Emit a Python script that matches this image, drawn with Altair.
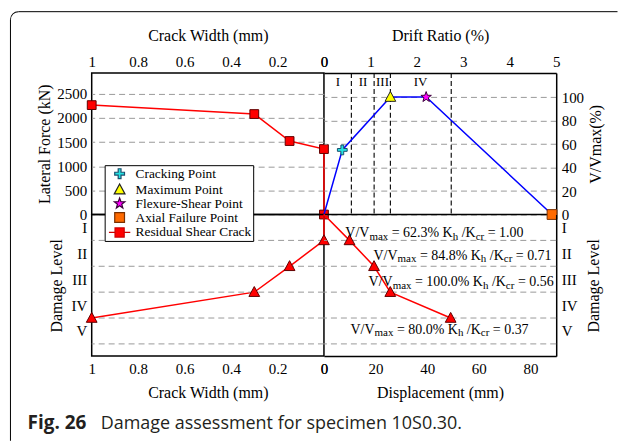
import math
import altair as alt
import pandas as pd

# ---------------- data ----------------
crack_width_top = [1.0, 0.30, 0.148, 0.0, 0.0]
lateral_force = [2264, 2079, 1521, 1355, 0]

drift = [0.0, 0.395, 1.43, 2.20, 4.91]
v_ratio = [0.0, 55.0, 100.0, 100.0, 0.0]

key_names = ["Cracking Point", "Maximum Point", "Flexure-Shear Point", "Axial Failure Point"]
key_drift = [0.395, 1.43, 2.20, 4.91]
key_vratio = [55.0, 100.0, 100.0, 0.0]
legend_names = key_names + ["Residual Shear Crack"]

limit_drift = [0.59, 1.08, 1.43, 2.74]
limit_labels = ["I", "II", "III", "IV"]
limit_label_drift = [0.30, 0.84, 1.26, 2.08]
limit_label_vratio = [112.5, 112.5, 112.5, 112.5]

crack_width_bottom = [1.0, 0.30, 0.148, 0.0, 0.0]
damage_by_crack = [4, 3, 2, 1, 0]
displacement = [0.0, 9.9, 19.4, 25.7, 49.1]
damage_by_disp = [0, 1, 2, 3, 4]

ann_vratio = ["62.3%", "84.8%", "100.0%", "80.0%"]
ann_kratio = ["1.00", "0.71", "0.56", "0.37"]
ann_disp = [8.3, 19.2, 17.3, 10.3]
ann_level = [0.87, 1.75, 2.78, 4.61]

level_names = ["I", "II", "III", "IV", "V"]
level_label_pos = [0.5, 1.5, 2.5, 3.5, 4.5]
level_grid = [1, 2, 3, 4, 5]

crack_ticks = [1, 0.8, 0.6, 0.4, 0.2, 0]
force_ticks = [0, 500, 1000, 1500, 2000, 2500]
drift_ticks = [0, 1, 2, 3, 4, 5]
vratio_ticks = [0, 20, 40, 60, 80, 100]
disp_ticks = [0, 20, 40, 60, 80]

# ---------------- styling ----------------
W, H = 233, 142
SERIF = "Liberation Serif"
SANS = "Open Sans"
RED = "#ff0000"
GRID = "#9a9a9a"


def sc(lo, hi, reverse=False):
    return alt.Scale(domain=[lo, hi], nice=False, zero=False, reverse=reverse)


S_CW = sc(0, 1, True)
S_FORCE = sc(0, 2929)
S_DRIFT = sc(0, 5)
S_VR = sc(0, 120.5)
S_DMG = sc(0, 5.47, True)
S_DISP = sc(0, 90)

ROMAN_EXPR = "[" + ",".join(repr(n) for n in level_names) + "][round(datum.value - 0.5)]"


def axis(**kw):
    base = dict(labelOverlap=False, labelFlush=False, ticks=False, tickCount=len(kw["values"]))
    base.update(kw)
    return alt.Axis(**base)


AX_CW_TOP = axis(orient="top", values=crack_ticks, format="~g", title="Crack Width (mm)",
                 grid=False, domain=False, labelPadding=4, titlePadding=11)
AX_FORCE = axis(orient="left", values=force_ticks, format="d", title="Lateral Force (kN)",
                grid=True, domain=False, labelPadding=5, titlePadding=4)
AX_DRIFT = axis(orient="top", values=drift_ticks, format="d", title="Drift Ratio (%)", grid=False,
                domain=True, labelPadding=4, titlePadding=11)
AX_VR = axis(orient="right", values=vratio_ticks, format="d", title="V/Vmax(%)", grid=True,
             domain=True, labelPadding=5, titlePadding=4, titleAngle=270, titleBaseline="top")
AX_DMG_L = axis(orient="left", values=level_label_pos, labelExpr=ROMAN_EXPR, title="Damage Level",
                grid=False, domain=False, labelPadding=5, titlePadding=6)
AX_CW_BOT = axis(orient="bottom", values=crack_ticks, format="~g", title="Crack Width (mm)",
                 grid=False, domain=False, labelPadding=5, titlePadding=9)
AX_DISP = axis(orient="bottom", values=disp_ticks, format="d", title="Displacement (mm)",
               grid=False, domain=True, labelPadding=5, titlePadding=9)
AX_DMG_R = axis(orient="right", values=level_label_pos, labelExpr=ROMAN_EXPR, title="Damage Level",
                grid=False, domain=True, labelPadding=5, titlePadding=9, titleAngle=270,
                titleBaseline="top")


def star_path(ro, ri):
    pts = []
    for k in range(10):
        a = -math.pi / 2 + k * math.pi / 5
        r = ro if k % 2 == 0 else ri
        pts.append(f"{r * math.cos(a):.3f},{r * math.sin(a):.3f}")
    return "M" + "L".join(pts) + "Z"


SZ = 150
P_CROSS = "M-0.23,-0.8H0.23V-0.23H0.8V0.23H0.23V0.8H-0.23V0.23H-0.8V-0.23H-0.23Z"
P_TRI = "M0,-0.92L0.88,0.7L-0.88,0.7Z"
P_STAR = star_path(0.9, 0.37)
P_SQUARE = "M-0.8,-0.8H0.8V0.8H-0.8Z"
P_RSQUARE = "M-0.72,-0.72H0.72V0.72H-0.72Z"
P_RESID = "M-1.75,0H-0.75M0.75,0H1.75M-0.75,-0.75H0.75V0.75H-0.75Z"

legend_shapes = [P_CROSS, P_TRI, P_STAR, P_SQUARE, P_RESID]
legend_fills = ["#25e2e2", "#ffff00", "#ff00ff", "#ff6a00", RED]
legend_strokes = ["#1b4f6e", "#222222", "#3a003a", "#7a3000", "#cc0000"]

LEG = alt.Legend(title=None, orient="none", legendX=13, legendY=92.5, fillColor="white",
                 strokeColor="black", padding=1.5, symbolSize=SZ, symbolOffset=6.5,
                 labelOffset=9, rowPadding=-1.0, labelFont=SERIF, labelFontSize=13.4,
                 labelColor="black", labelLimit=400, symbolStrokeWidth=1.2, symbolOpacity=1)

one = pd.DataFrame({"k": [0]})


def X(scale, ax):
    return alt.X("x:Q", scale=scale, axis=ax)


def Y(scale, ax):
    return alt.Y("y:Q", scale=scale, axis=ax)


# ---------------- upper left ----------------
ul_df = pd.DataFrame({"x": crack_width_top, "y": lateral_force, "i": range(len(lateral_force))})
border_top = alt.Chart(one).mark_rule(color="black", strokeWidth=1).encode(
    x=alt.value(-73.5), x2=alt.value(527.5), y=alt.value(-61.5))
border_left = alt.Chart(one).mark_rule(color="black", strokeWidth=1).encode(
    x=alt.value(-81.5), y=alt.value(-53.5), y2=alt.value(369))
border_corner = alt.Chart(one).mark_arc(radius=8.5, radius2=7.5, theta=3 * math.pi / 2,
                                        theta2=2 * math.pi, color="black").encode(
    x=alt.value(-73.5), y=alt.value(-53.5))
ul_line = alt.Chart(ul_df).mark_line(color=RED, strokeWidth=1.5).encode(
    x=X(S_CW, AX_CW_TOP), y=Y(S_FORCE, AX_FORCE), order="i:Q")
ul_pts = alt.Chart(ul_df).mark_point(shape=P_RSQUARE, size=SZ, filled=True, fill=RED,
                                     stroke="#600000", strokeWidth=1, opacity=1).encode(
    x=X(S_CW, AX_CW_TOP), y=Y(S_FORCE, AX_FORCE))
UL = alt.layer(border_top, border_left, border_corner, ul_line, ul_pts).properties(
    width=W, height=H, view=alt.ViewBackground(stroke="black", strokeWidth=1.5))

# ---------------- upper right ----------------
edge_df = pd.DataFrame({"x": [0.0], "x2": [5.0], "y": [0.0]})
ur_edge = alt.Chart(edge_df).mark_rule(color="black", strokeWidth=1.5).encode(
    x=X(S_DRIFT, AX_DRIFT), x2="x2:Q", y=Y(S_VR, AX_VR))
ur_limits = alt.Chart(pd.DataFrame({"x": limit_drift})).mark_rule(
    color="black", strokeWidth=1.1, strokeDash=[5, 3]).encode(x=X(S_DRIFT, AX_DRIFT))
ur_roman = alt.Chart(pd.DataFrame({"x": limit_label_drift, "y": limit_label_vratio, "t": limit_labels})
                     ).mark_text(font=SERIF, fontSize=13, color="black").encode(
    x=X(S_DRIFT, AX_DRIFT), y=Y(S_VR, AX_VR), text="t:N")
ur_line = alt.Chart(pd.DataFrame({"x": drift, "y": v_ratio, "i": range(len(drift))})).mark_line(
    color="#0000ff", strokeWidth=1.5).encode(
    x=X(S_DRIFT, AX_DRIFT), y=Y(S_VR, AX_VR), order="i:Q")
ur_keys = alt.Chart(pd.DataFrame({"x": key_drift, "y": key_vratio, "name": key_names})).mark_point(
    filled=True, size=SZ, opacity=1, strokeWidth=1).encode(
    x=X(S_DRIFT, AX_DRIFT), y=Y(S_VR, AX_VR),
    fill=alt.Fill("name:N", scale=alt.Scale(domain=legend_names, range=legend_fills), legend=LEG),
    shape=alt.Shape("name:N", scale=alt.Scale(domain=legend_names, range=legend_shapes), legend=LEG),
    stroke=alt.Stroke("name:N", scale=alt.Scale(domain=legend_names, range=legend_strokes), legend=LEG))
UR = alt.layer(ur_edge, ur_limits, ur_roman, ur_line, ur_keys).properties(
    width=W, height=H, view=alt.ViewBackground(stroke="transparent"))

# ---------------- lower left ----------------
ll_df = pd.DataFrame({"x": crack_width_bottom, "y": damage_by_crack, "i": range(len(damage_by_crack))})
ll_line = alt.Chart(ll_df).mark_line(color=RED, strokeWidth=1.5).encode(
    x=X(S_CW, AX_CW_BOT), y=Y(S_DMG, AX_DMG_L), order="i:Q")
ll_grid = alt.Chart(pd.DataFrame({"y": level_grid})).mark_rule(
    color=GRID, strokeDash=[6, 4], strokeWidth=1).encode(y=Y(S_DMG, AX_DMG_L))
ll_tri = alt.Chart(ll_df).transform_filter("datum.y > 0").mark_point(
    shape=P_TRI, size=SZ, filled=True, fill=RED, stroke="#600000", strokeWidth=1, opacity=1).encode(
    x=X(S_CW, AX_CW_BOT), y=Y(S_DMG, AX_DMG_L))
cap_bold = alt.Chart(one).mark_text(text="Fig. 26", font=SANS, fontSize=19, fontWeight="bold",
                                    align="left", baseline="alphabetic", color="#231f20").encode(
    x=alt.value(-64.3), y=alt.value(214.8))
cap_text = alt.Chart(one).mark_text(text="Damage assessment for specimen 10S0.30.", font=SANS,
                                    fontSize=18, align="left", baseline="alphabetic",
                                    color="#231f20").encode(
    x=alt.value(9), y=alt.value(214.8))
LL = alt.layer(ll_line, ll_grid, ll_tri, cap_bold, cap_text).properties(
    width=W, height=H, view=alt.ViewBackground(stroke="black", strokeWidth=1.5))

# ---------------- lower right ----------------
TIMES = {" ": 250, "/": 278, "=": 564, "%": 833, ".": 250, "V": 722, "K": 722, "m": 778,
         "a": 444, "x": 500, "h": 500, "c": 444, "r": 333}


def text_width(s, size):
    return sum(TIMES.get(ch, 500) for ch in s) * size / 1000.0


MAIN, SUB = 14, 11
px_to_disp = 90.0 / W
rows_main, rows_sub = [], []
for vr, kr, d0, lv in zip(ann_vratio, ann_kratio, ann_disp, ann_level):
    segs = [("V/V", False), ("max", True), (f" = {vr} K", False), ("h", True),
            (" /K", False), ("cr", True), (f" = {kr}", False)]
    cum = 0.0
    for s, is_sub in segs:
        size = SUB if is_sub else MAIN
        lead = len(s) - len(s.lstrip(" "))
        start = cum + text_width(" " * lead, size)
        row = {"x": d0 + start * px_to_disp, "y": lv, "t": s.strip()}
        (rows_sub if is_sub else rows_main).append(row)
        cum += text_width(s, size)

lr_df = pd.DataFrame({"x": displacement, "y": damage_by_disp, "i": range(len(displacement))})
lr_line = alt.Chart(lr_df).mark_line(color=RED, strokeWidth=1.5).encode(
    x=X(S_DISP, AX_DISP), y=Y(S_DMG, AX_DMG_R), order="i:Q")
lr_grid = alt.Chart(pd.DataFrame({"y": level_grid})).mark_rule(
    color=GRID, strokeDash=[6, 4], strokeWidth=1).encode(y=Y(S_DMG, AX_DMG_R))
lr_tri = alt.Chart(lr_df).transform_filter("datum.y > 0").mark_point(
    shape=P_TRI, size=SZ, filled=True, fill=RED, stroke="#600000", strokeWidth=1, opacity=1).encode(
    x=X(S_DISP, AX_DISP), y=Y(S_DMG, AX_DMG_R))
lr_text = alt.Chart(pd.DataFrame(rows_main)).mark_text(
    font=SERIF, fontSize=MAIN, align="left", baseline="alphabetic", color="black").encode(
    x=X(S_DISP, AX_DISP), y=Y(S_DMG, AX_DMG_R), text="t:N")
lr_sub = alt.Chart(pd.DataFrame(rows_sub)).mark_text(
    font=SERIF, fontSize=SUB, align="left", baseline="alphabetic", color="black", dy=2.5).encode(
    x=X(S_DISP, AX_DISP), y=Y(S_DMG, AX_DMG_R), text="t:N")
LR = alt.layer(lr_line, lr_grid, lr_tri, lr_text, lr_sub).properties(
    width=W, height=H, view=alt.ViewBackground(stroke="transparent"))

chart = alt.concat(UL, UR, LL, LR, columns=2, spacing=0, bounds="flush").properties(
    padding={"left": 9, "top": 9.5, "right": 0, "bottom": 0},
    background="white",
).configure_axis(
    labelFont=SERIF, titleFont=SERIF, labelFontSize=15, titleFontSize=16,
    titleFontWeight="normal", labelColor="black", titleColor="black",
    domainColor="black", domainWidth=1.5, gridColor=GRID, gridDash=[6, 4], gridWidth=1,
    ticks=False, labelFlush=False, labelOverlap=False, labelBound=False,
)

chart.save("out.html", embed_options={"renderer": "svg", "actions": False})
